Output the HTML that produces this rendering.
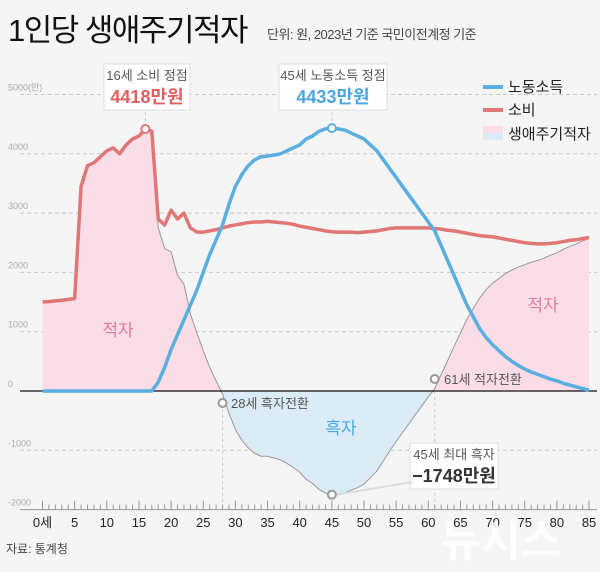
<!DOCTYPE html>
<html><head><meta charset="utf-8">
<style>
html,body{margin:0;padding:0;background:#f5f5f5;}
body{width:600px;height:567px;overflow:hidden;position:relative;font-family:"Liberation Sans","Noto Sans CJK KR",sans-serif;}
svg text{font-family:"Liberation Sans","Noto Sans CJK KR",sans-serif;}
</style></head>
<body>
<svg id="chart" width="600" height="567" viewBox="0 0 600 567">
  <text x="8" y="41" font-size="31" fill="#111" letter-spacing="-1.5">1인당 생애주기적자</text>
  <text x="267" y="39" font-size="13" fill="#444" letter-spacing="-0.5">단위: 원, 2023년 기준 국민이전계정 기준</text>
  <g id="grid"></g>
  <g id="areas"></g>
  <g id="lines"></g>
  <g id="axis"></g>
  <g id="annot"></g>
  <g>
    <line x1="483" y1="87" x2="503" y2="87" stroke="#5aaee0" stroke-width="4"/>
    <text x="508" y="92" font-size="15" fill="#222">노동소득</text>
    <line x1="483" y1="110" x2="503" y2="110" stroke="#e07676" stroke-width="4"/>
    <text x="508" y="115" font-size="15" fill="#222">소비</text>
    <rect x="483" y="126" width="20" height="7" fill="#fbdde8"/>
    <rect x="483" y="133" width="20" height="7" fill="#dcecf7"/>
    <text x="508" y="139" font-size="15" fill="#222">생애주기적자</text>
  </g>
  <text x="6" y="553" font-size="12" fill="#444">자료: 통계청</text>
  <text x="440" y="556" font-size="44" font-weight="bold" fill="#fff" opacity="0.8">뉴시스</text>
</svg>
<script>
const ages = Array.from({length:86},(_,i)=>i);
const labor = [0,0,0,0,0,0,0,0,0,0,0,0,0,0,0,0,0,0,150,400,700,950,1200,1450,1700,2000,2300,2550,2800,3150,3450,3650,3800,3900,3950,3960,3980,4000,4050,4100,4150,4250,4300,4380,4420,4433,4420,4400,4350,4300,4250,4150,4050,3900,3750,3600,3450,3300,3150,3000,2850,2700,2450,2200,1950,1700,1450,1250,1050,900,780,680,580,500,430,370,320,280,240,200,170,130,100,70,40,15];
const consumption = [1500,1510,1520,1530,1545,1560,3450,3800,3850,3950,4050,4100,4000,4150,4250,4300,4418,4380,2900,2800,3050,2900,3000,2750,2680,2680,2700,2720,2750,2780,2800,2820,2840,2850,2850,2860,2850,2840,2830,2810,2780,2760,2740,2720,2700,2685,2680,2680,2680,2670,2680,2690,2700,2720,2740,2750,2750,2750,2750,2750,2750,2740,2730,2710,2700,2680,2660,2640,2620,2610,2600,2580,2560,2540,2520,2500,2490,2480,2480,2490,2500,2520,2540,2550,2570,2590];
const yTicks = [5000,4000,3000,2000,1000,0,-1000,-2000];
const yTickLabels = ["5000(만)","4000","3000","2000","1000","0","-1000","-2000"];
const xTicks = [0,5,10,15,20,25,30,35,40,45,50,55,60,65,70,75,80,85];
const xTickLabels = ["0세","5","10","15","20","25","30","35","40","45","50","55","60","65","70","75","80","85"];

const NS="http://www.w3.org/2000/svg";
const X = a => 42.5 + a*6.43;
const Y = v => 391 - v*0.0593;
function mk(tag, attrs, parent){const e=document.createElementNS(NS,tag);for(const k in attrs)e.setAttribute(k,attrs[k]);parent.appendChild(e);return e;}
const grid=document.getElementById('grid'), areas=document.getElementById('areas'), lines=document.getElementById('lines'), axis=document.getElementById('axis'), annot=document.getElementById('annot');

yTicks.forEach((v,i)=>{
  if(v!==0 && v!==-2000){
    const l=mk('line',{x1:20,x2:597,y1:Y(v),y2:Y(v),stroke:'#c8c8c8','stroke-dasharray':'4,3','stroke-width':1},grid);
    
    
  }
  const t=mk('text',{x:8,y:Y(v)-4,'font-size':9,fill:'#aaa'},grid);
  t.textContent=yTickLabels[i];
  
  
});

const deficit = ages.map(a=>consumption[a]-labor[a]);
// pink (positive) area and blue (negative) area
let pos = `M${X(0)},${Y(0)} ` + ages.map(a=>`L${X(a)},${Y(Math.max(0,deficit[a]))}`).join(' ') + ` L${X(85)},${Y(0)} Z`;
let neg = `M${X(0)},${Y(0)} ` + ages.map(a=>`L${X(a)},${Y(Math.min(0,deficit[a]))}`).join(' ') + ` L${X(85)},${Y(0)} Z`;
const pa=mk('path',{d:pos,fill:'#fbdde8'},areas);


const na=mk('path',{d:neg,fill:'#dcecf7'},areas);



// vertical dashed guides
[[28,0,-2000],[61,0,-2000],[16,4418,4418],[45,4433,4433]].forEach(g=>{
  const l=mk('line',{x1:X(g[0]),x2:X(g[0]),y1:g[0]===16||g[0]===45?100:Y(g[1]),y2:g[0]===16||g[0]===45?Y(g[1]):Y(g[2]),stroke:'#ccc','stroke-dasharray':'3,3'},grid);
  
  
});

const defLine=mk('polyline',{points:ages.map(a=>`${X(a)},${Y(deficit[a])}`).join(' '),fill:'none',stroke:'#999','stroke-width':1},lines);


const zero=mk('line',{x1:20,x2:597,y1:Y(0),y2:Y(0),stroke:'#111','stroke-width':1.3},lines);


const cl=mk('polyline',{points:ages.map(a=>`${X(a)},${Y(consumption[a])}`).join(' '),fill:'none',stroke:'#e07676','stroke-width':3.5,'stroke-linejoin':'round'},lines);


const ll=mk('polyline',{points:ages.map(a=>`${X(a)},${Y(labor[a])}`).join(' '),fill:'none',stroke:'#5aaee0','stroke-width':3.5,'stroke-linejoin':'round'},lines);



// x axis
const ax=mk('line',{x1:20,x2:597,y1:Y(-2000),y2:Y(-2000),stroke:'#999','stroke-width':1},axis);


ages.forEach(a=>{
  const major=a%5===0;
  const t=mk('line',{x1:X(a),x2:X(a),y1:Y(-2000)-(major?9:5),y2:Y(-2000),stroke:'#999'},axis);
  
  
});
xTicks.forEach((a,i)=>{
  const t=mk('text',{x:X(a),y:527,'font-size':13,fill:'#222','text-anchor':'middle'},axis);
  t.textContent=xTickLabels[i];
  
  
});

// annotations
function circle(x,y,name){const c=mk('circle',{cx:x,cy:y,r:4,fill:'#fff',stroke:name.includes('peak-cons')?'#e07676':name.includes('peak-labor')?'#5aaee0':'#999','stroke-width':2},annot);}
function text(x,y,s,size,fill,name,weight,anchor){const t=mk('text',{x:x,y:y,'font-size':size,fill:fill,'font-weight':weight||'normal','text-anchor':anchor||'start'},annot);t.textContent=s;}
function box(x,y,w,h,name){const r=mk('rect',{x:x,y:y,width:w,height:h,fill:'#fff',stroke:'#ddd'},annot);}

box(104,64,86,46,'peak-consumption-callout');
text(147,80,'16세 소비 정점',13,'#555','peak-consumption-caption','normal','middle');
text(147,103,'4418만원',18,'#e06060','peak-consumption-value','bold','middle');
circle(X(16),Y(4418),'peak-consumption-marker');

box(279,64,108,46,'peak-labor-callout');
text(333,80,'45세 노동소득 정점',13,'#555','peak-labor-caption','normal','middle');
text(333,103,'4433만원',18,'#4aa6de','peak-labor-value','bold','middle');
circle(X(45),Y(4433),'peak-labor-marker');

circle(X(28),Y(0)+12,'surplus-turn-marker');
text(231,408,'28세 흑자전환',13,'#555','surplus-turn-label');
circle(X(61),Y(0)-12,'deficit-turn-marker');
text(444,384,'61세 적자전환',13,'#555','deficit-turn-label');

box(410,443,88,46,'max-surplus-callout');
text(454,459,'45세 최대 흑자',13,'#555','max-surplus-caption','normal','middle');
text(454,482,'−1748만원',18,'#333','max-surplus-value','bold','middle');
const ln=mk('line',{x1:X(45)+5,y1:Y(-1748),x2:412,y2:482,stroke:'#ddd','stroke-width':2},annot);


circle(X(45),Y(-1748),'max-surplus-marker');

text(118,336,'적자',17,'#e07aa0','deficit-area-label-left','normal','middle');
text(543,311,'적자',17,'#e07aa0','deficit-area-label-right','normal','middle');
text(341,434,'흑자',17,'#4aa6de','surplus-area-label','normal','middle');
</script>
</body></html>
